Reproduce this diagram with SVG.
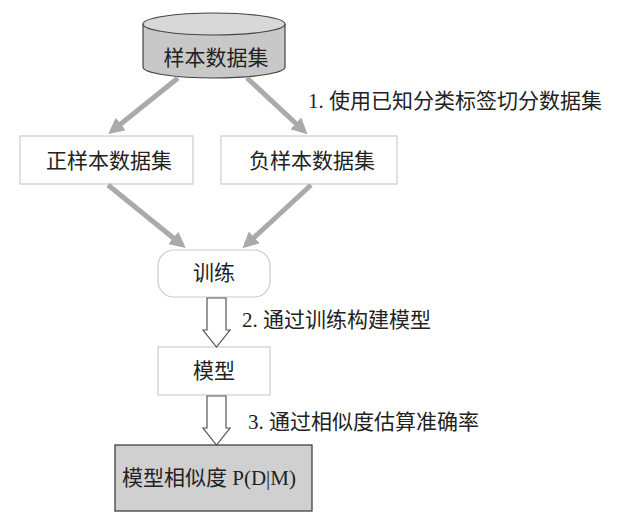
<svg xmlns="http://www.w3.org/2000/svg" width="618" height="526" viewBox="0 0 618 526">
<style>
text{font-family:"Liberation Serif","Noto Sans CJK SC",serif;font-size:21px;fill:#222}
.box{fill:#fff;stroke:#ccc;stroke-width:1.2}
.ln{stroke:#aaa;stroke-width:5;fill:none}
.hol{fill:#fff;stroke:#555;stroke-width:1.2}
</style>
<defs><marker id="a" viewBox="0 0 10 10" refX="7" refY="5" markerWidth="3.2" markerHeight="3.2" orient="auto"><path d="M0,0L10,5L0,10z" fill="#aaa"/></marker></defs>
<rect width="618" height="526" fill="#fff"/>
<g id="n1"><path d="M143,24V67A71,11 0 0 0 285,67V24" fill="#c8c8c8" stroke="#444" stroke-width="1.2"/><ellipse cx="214" cy="24" rx="71" ry="11" fill="#d8d8d8" stroke="#444" stroke-width="1.2"/><text x="216" y="65" text-anchor="middle">样本数据集</text></g>
<g id="n2"><rect class="box" x="20" y="136" width="173" height="48"/><text x="109" y="168" text-anchor="middle">正样本数据集</text></g>
<g id="n3"><rect class="box" x="221" y="136" width="176" height="48"/><text x="312" y="168" text-anchor="middle">负样本数据集</text></g>
<g id="n4"><rect class="box" x="158" y="250" width="112" height="47" rx="16"/><text x="214" y="280" text-anchor="middle">训练</text></g>
<g id="n5"><rect class="box" x="158" y="347" width="112" height="48"/><text x="214" y="378" text-anchor="middle">模型</text></g>
<g id="n6"><rect x="115" y="445" width="197" height="66" fill="#d0d0d0" stroke="#333" stroke-width="1.2"/><text x="122" y="485">模型相似度 P(D|M)</text></g>
<g id="edges">
<line class="ln" x1="178" y1="78" x2="112" y2="131" marker-end="url(#a)"/>
<line class="ln" x1="247" y1="78" x2="304" y2="131" marker-end="url(#a)"/>
<line class="ln" x1="108" y1="185" x2="182" y2="245" marker-end="url(#a)"/>
<line class="ln" x1="311" y1="185" x2="246" y2="245" marker-end="url(#a)"/>
<path class="hol" d="M207,298H226V330H230L216.5,347L203,330H207Z"/>
<path class="hol" d="M207,396H226V428H230L216.5,445L203,428H207Z"/>
<text x="308" y="108">1. 使用已知分类标签切分数据集</text>
<text x="242" y="327">2. 通过训练构建模型</text>
<text x="248" y="429">3. 通过相似度估算准确率</text>
</g>
</svg>
